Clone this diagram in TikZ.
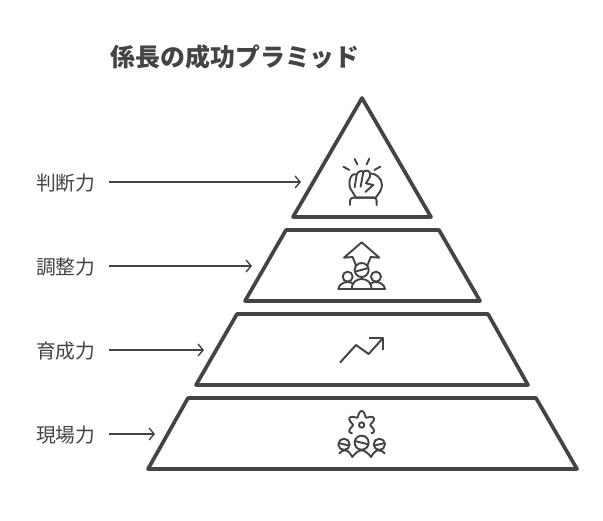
\documentclass[tikz,border=0pt]{standalone}
\usepackage{fontspec}
\newfontfamily\cjk{Noto Sans CJK JP}
\usetikzlibrary{arrows.meta}
\definecolor{ink}{HTML}{444444}
\tikzset{
  tier/.style={draw=ink,line width=3.7pt,line join=round,fill=white},
  lab/.style={font=\cjk\fontsize{19.8}{22}\selectfont,text=ink,inner sep=0pt,anchor=west},
  titlelab/.style={font=\cjk\bfseries\fontsize{24.9}{27}\selectfont,text=ink,inner sep=0pt,anchor=west},
  conn/.style={draw=ink,line width=1.7pt,-{Straight Barb[length=5pt,width=12pt,line width=1.4pt]}},
  ico/.style={draw=ink,line width=1.9pt,line cap=round,line join=round}
}
\begin{document}
\begin{tikzpicture}[x=1pt,y=-1pt]
\useasboundingbox (0,0) rectangle (603,520);
\fill[white] (0,0) rectangle (603,520);
\node[titlelab] (title) at (110.5,57) {係長の成功プラミッド};
% tiers
\draw[tier] (362,98) -- (431,217) -- (293,217) -- cycle;
\draw[tier] (286,230) -- (439,230) -- (480,301) -- (245,301) -- cycle;
\draw[tier] (237,314) -- (488,314) -- (528,385) -- (196,385) -- cycle;
\draw[tier] (188,398) -- (536,398) -- (577,469) -- (148,469) -- cycle;
% labels
\node[lab] (l1) at (36,183) {判断力};
\node[lab] (l2) at (36,267) {調整力};
\node[lab] (l3) at (36,351) {育成力};
\node[lab] (l4) at (36,435) {現場力};
\coordinate (s1) at (109,182); \coordinate (e1) at (301,182);
\coordinate (s2) at (109,266); \coordinate (e2) at (252,266);
\coordinate (s3) at (109,350); \coordinate (e3) at (204,350);
\coordinate (s4) at (109,434); \coordinate (e4) at (155,434);
\draw[conn] (s1) -- (e1);
\draw[conn] (s2) -- (e2);
\draw[conn] (s3) -- (e3);
\draw[conn] (s4) -- (e4);
% fist
\begin{scope}[shift={(320pt,-150pt)},x=0.3333pt,y=-0.3333pt]
\draw[ico] (70,50)--(88,60) (104,27)--(112,43) (148,26)--(140,43) (181,50)--(163,60);
\draw[ico] (108,143) -- (97,125) .. controls (86,115) and (86,90) .. (93,80) .. controls (98,72) and (107,70) .. (110,74)
  .. controls (113,64) and (125,60) .. (130,66) .. controls (135,60) and (148,60) .. (150,70)
  .. controls (168,70) and (186,85) .. (186,105) .. controls (186,120) and (175,132) .. (167,143) -- cycle;
\draw[ico] (110,74) -- (104,112) (130,66) -- (122,110) (150,70) -- (150,80) -- (138,100) -- (160,105) -- (136,126);
\draw[ico] (90,165) -- (90,152) .. controls (90,146) and (95,143) .. (100,143) -- (160,143) .. controls (166,143) and (170,146) .. (170,152) -- (170,165);
\end{scope}
% team arrow
\begin{scope}[shift={(320pt,-235pt)},x=0.3333pt,y=-0.3333pt]
\draw[ico] (108,92) -- (98,66) -- (72,68) -- (125,22) -- (178,68) -- (152,66) -- (142,92);
\draw[ico] (125,105) circle[radius=21];
\draw[ico] (105,110) -- (145,99);
\draw[ico] (83,125) circle[radius=15];
\draw[ico] (168,125) circle[radius=15];
\draw[ico] (55,162) -- (195,162);
\draw[ico] (95,162) .. controls (95,142) and (110,132) .. (125,132) .. controls (140,132) and (155,142) .. (155,162);
\draw[ico] (55,162) .. controls (56,150) and (70,141) .. (83,141) .. controls (90,141) and (95,143) .. (100,147);
\draw[ico] (195,162) .. controls (194,150) and (180,141) .. (168,141) .. controls (160,141) and (155,143) .. (150,147);
\end{scope}
% growth
\begin{scope}[shift={(320pt,-325pt)},x=0.3333pt,y=-0.3333pt]
\draw[ico,line width=2pt,line cap=butt] (60,113) -- (108,60) -- (146,87) -- (190,38);
\draw[ico,line width=2pt,line cap=butt] (148,38) -- (190,38) -- (190,75);
\end{scope}
% field
\begin{scope}[shift={(320pt,-405pt)},x=0.3333pt,y=-0.3333pt]
\draw[ico] (125,60) circle[radius=8];
\draw[ico] plot[smooth,samples=60,domain=-40:220,variable=\t] ({125+(34+8*cos(6*(\t-90)))*cos(\t)},{60-(34+8*cos(6*(\t-90)))*sin(\t)});
\draw[ico] (125,113) circle[radius=21];
\draw[ico] (105,108) -- (145,118);
\draw[ico] (72,118) circle[radius=17];
\draw[ico] (56,114) -- (88,122);
\draw[ico] (178,118) circle[radius=17];
\draw[ico] (162,122) -- (194,114);
\draw[ico] (58,145) .. controls (62,138) and (70,136) .. (76,136) .. controls (85,136) and (92,148) .. (97,156) .. controls (105,145) and (115,136) .. (125,136) .. controls (135,136) and (146,146) .. (153,156) .. controls (158,148) and (165,136) .. (174,136) .. controls (182,136) and (190,138) .. (194,145);
\end{scope}
\end{tikzpicture}
\end{document}
